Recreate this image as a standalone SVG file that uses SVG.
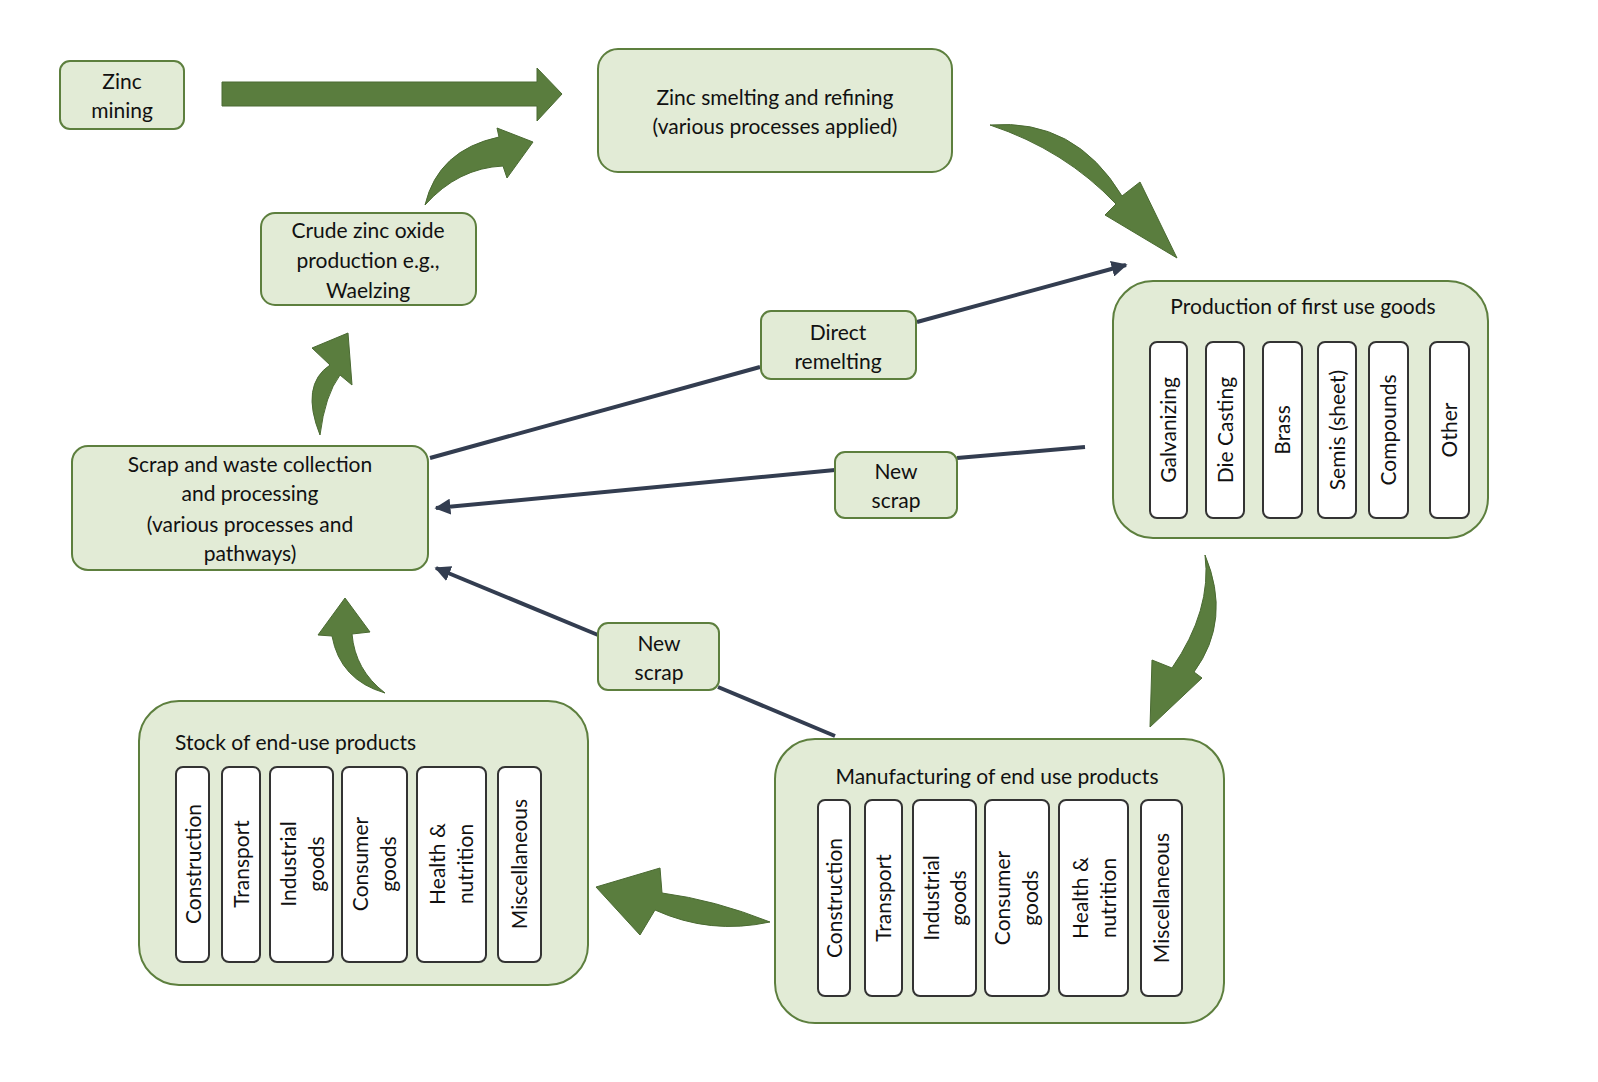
<svg xmlns="http://www.w3.org/2000/svg" width="1598" height="1082" viewBox="0 0 1598 1082">
<style>
.b{fill:#e2ebd6;stroke:#5d7f3e;stroke-width:2}
.s{fill:#fff;stroke:#333;stroke-width:2}
.t{font-family:Lato,"Liberation Sans",sans-serif;font-size:21px;fill:#111;text-anchor:middle}
.ga{fill:#5a7d3e;stroke:#4a6a32;stroke-width:1}
.ln{stroke:#333d50;stroke-width:4;fill:none}
</style>
<defs><marker id="ah" viewBox="0 0 10 10" refX="9" refY="5" markerWidth="4" markerHeight="4" orient="auto"><path d="M0,0L10,5L0,10z" fill="#333d50"/></marker></defs>
<rect width="1598" height="1082" fill="#fff"/>
<g id="connectors">
<path class="ga" d="M222,82H537V68L562,94L537,121V106H222Z" stroke="#3b5aa0"/>
<path class="ga" d="M425,205Q438,150 499,137L497,128L533,142L507,178L503,166Q458,168 425,205Z"/>
<path class="ga" d="M320,435Q300,385 330,365L312,348L348,333L352,385L340,375Q325,395 320,435Z"/>
<path class="ga" d="M990,125Q1075,118 1122,196L1140,182L1177,258L1105,215L1116,204Q1065,150 990,125Z"/>
<path class="ga" d="M1205,555Q1232,620 1194,672L1202,678L1150,727L1152,660L1172,668Q1212,610 1205,555Z"/>
<path class="ga" d="M770,922Q715,900 662,893L660,868L596,887L640,935L655,910Q710,935 770,922Z"/>
<path class="ga" d="M385,693Q340,680 332,636L318,635L345,598L370,632L352,634Q355,670 385,693Z"/>
<path class="ln" d="M430,458L760,367"/>
<path class="ln" d="M917,322L1126,265" marker-end="url(#ah)"/>
<path class="ln" d="M1085,447L957,458"/>
<path class="ln" d="M835,470L436,508" marker-end="url(#ah)"/>
<path class="ln" d="M835,736L718,687"/>
<path class="ln" d="M598,635L436,568" marker-end="url(#ah)"/>
</g>
<g id="zinc-mining"><rect class="b" x="60" y="61" width="124" height="68" rx="10"/><text class="t" x="122" y="89">Zinc</text><text class="t" x="122" y="118">mining</text></g>
<g id="smelting"><rect class="b" x="598" y="49" width="354" height="123" rx="20"/><text class="t" x="775" y="105">Zinc smelting and refining</text><text class="t" x="775" y="134">(various processes applied)</text></g>
<g id="crude"><rect class="b" x="261" y="213" width="215" height="92" rx="14"/><text class="t" x="368" y="238">Crude zinc oxide</text><text class="t" x="368" y="268">production e.g.,</text><text class="t" x="368" y="298">Waelzing</text></g>
<g id="direct"><rect class="b" x="761" y="311" width="155" height="68" rx="10"/><text class="t" x="838" y="340">Direct</text><text class="t" x="838" y="369">remelting</text></g>
<g id="newscrap1"><rect class="b" x="835" y="452" width="122" height="66" rx="10"/><text class="t" x="896" y="479">New</text><text class="t" x="896" y="508">scrap</text></g>
<g id="scrap"><rect class="b" x="72" y="446" width="356" height="124" rx="16"/><text class="t" x="250" y="472">Scrap and waste collection</text><text class="t" x="250" y="501">and processing</text><text class="t" x="250" y="532">(various processes and</text><text class="t" x="250" y="561">pathways)</text></g>
<g id="newscrap2"><rect class="b" x="598" y="623" width="121" height="67" rx="10"/><text class="t" x="659" y="651">New</text><text class="t" x="659" y="680">scrap</text></g>
<g id="production"><rect class="b" x="1113" y="281" width="375" height="257" rx="40"/><text class="t" x="1303" y="314">Production of first use goods</text>
<rect class="s" x="1150" y="342" width="37" height="176" rx="7"/><text class="t" transform="translate(1176,430) rotate(-90)">Galvanizing</text>
<rect class="s" x="1206" y="342" width="38" height="176" rx="7"/><text class="t" transform="translate(1233,430) rotate(-90)">Die Casting</text>
<rect class="s" x="1263" y="342" width="39" height="176" rx="7"/><text class="t" transform="translate(1290,430) rotate(-90)">Brass</text>
<rect class="s" x="1318" y="342" width="38" height="176" rx="7"/><text class="t" transform="translate(1345,430) rotate(-90)">Semis (sheet)</text>
<rect class="s" x="1369" y="342" width="39" height="176" rx="7"/><text class="t" transform="translate(1396,430) rotate(-90)">Compounds</text>
<rect class="s" x="1430" y="342" width="39" height="176" rx="7"/><text class="t" transform="translate(1457,430) rotate(-90)">Other</text></g>
<g id="manufacturing"><rect class="b" x="775" y="739" width="449" height="284" rx="40"/><text class="t" x="997" y="784">Manufacturing of end use products</text>
<rect class="s" x="818" y="800" width="32" height="196" rx="7"/><text class="t" transform="translate(842,898) rotate(-90)">Construction</text>
<rect class="s" x="865" y="800" width="37" height="196" rx="7"/><text class="t" transform="translate(891,898) rotate(-90)">Transport</text>
<rect class="s" x="913" y="800" width="63" height="196" rx="7"/><text class="t" transform="translate(939,898) rotate(-90)">Industrial</text><text class="t" transform="translate(966,898) rotate(-90)">goods</text>
<rect class="s" x="985" y="800" width="64" height="196" rx="7"/><text class="t" transform="translate(1010,898) rotate(-90)">Consumer</text><text class="t" transform="translate(1038,898) rotate(-90)">goods</text>
<rect class="s" x="1059" y="800" width="69" height="196" rx="7"/><text class="t" transform="translate(1088,898) rotate(-90)">Health &amp;</text><text class="t" transform="translate(1116,898) rotate(-90)">nutrition</text>
<rect class="s" x="1141" y="800" width="41" height="196" rx="7"/><text class="t" transform="translate(1169,898) rotate(-90)">Miscellaneous</text></g>
<g id="stock"><rect class="b" x="139" y="701" width="449" height="284" rx="40"/><text class="t" x="175" y="750" style="text-anchor:start">Stock of end-use products</text>
<rect class="s" x="176" y="767" width="33" height="195" rx="7"/><text class="t" transform="translate(201,864) rotate(-90)">Construction</text>
<rect class="s" x="222" y="767" width="38" height="195" rx="7"/><text class="t" transform="translate(249,864) rotate(-90)">Transport</text>
<rect class="s" x="270" y="767" width="63" height="195" rx="7"/><text class="t" transform="translate(296,864) rotate(-90)">Industrial</text><text class="t" transform="translate(324,864) rotate(-90)">goods</text>
<rect class="s" x="342" y="767" width="65" height="195" rx="7"/><text class="t" transform="translate(368,864) rotate(-90)">Consumer</text><text class="t" transform="translate(396,864) rotate(-90)">goods</text>
<rect class="s" x="417" y="767" width="69" height="195" rx="7"/><text class="t" transform="translate(445,864) rotate(-90)">Health &amp;</text><text class="t" transform="translate(473,864) rotate(-90)">nutrition</text>
<rect class="s" x="498" y="767" width="43" height="195" rx="7"/><text class="t" transform="translate(527,864) rotate(-90)">Miscellaneous</text></g>
</svg>
